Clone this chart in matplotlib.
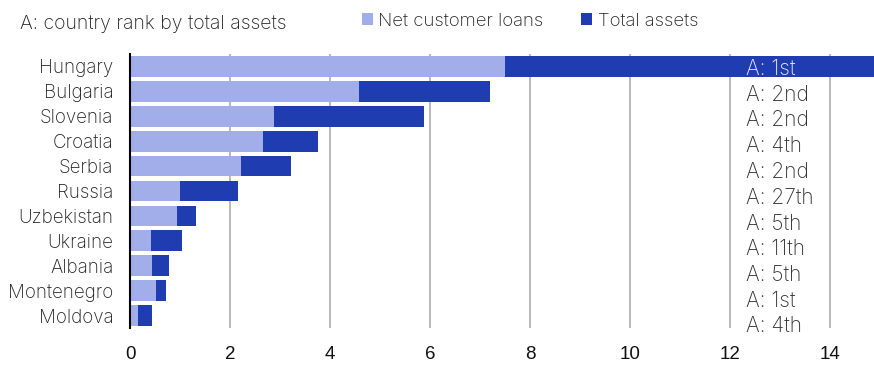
import matplotlib.pyplot as plt
import numpy as np

plt.rcParams["font.family"] = ["Inter", "DejaVu Sans"]
plt.rcParams["font.weight"] = "light"

countries = ["Hungary", "Bulgaria", "Slovenia", "Croatia", "Serbia", "Russia",
             "Uzbekistan", "Ukraine", "Albania", "Montenegro", "Moldova"]
net_loans = [7.5, 4.58, 2.88, 2.65, 2.21, 0.99, 0.94, 0.41, 0.44, 0.51, 0.15]
total_assets = [15.5, 7.2, 5.88, 3.75, 3.21, 2.15, 1.32, 1.03, 0.77, 0.71, 0.43]
ranks = ["1st", "2nd", "2nd", "4th", "2nd", "27th", "5th", "11th", "5th", "1st", "4th"]

light = "#a1aeea"
dark = "#1f3db0"

fig = plt.figure(figsize=(8.74, 3.65), dpi=100)
ax = fig.add_axes([130 / 874, 37 / 365, 744 / 874, 274 / 365])

y = np.arange(len(countries))
ax.barh(y, total_assets, height=0.83, color=dark, zorder=2, label="Total assets")
ax.barh(y, net_loans, height=0.83, color=light, zorder=3, label="Net customer loans")

ax.set_xlim(0, 14.88)
ax.set_ylim(len(countries) - 0.5, -0.5)
ax.set_yticks(y)
ax.set_yticklabels(countries, fontsize=13.5, color="#222222")
ax.set_xticks(np.arange(0, 15, 2))
ax.set_xticklabels([str(v) for v in range(0, 15, 2)], fontsize=13.5,
                   family="Liberation Sans", weight="normal", color="#111111")
ax.tick_params(axis="x", length=0, pad=13)
ax.tick_params(axis="y", length=0, pad=12)
ax.grid(axis="x", color="#b3b3b3", linewidth=1.3, zorder=1)
ax.set_axisbelow(True)
for side in ["top", "right", "bottom"]:
    ax.spines[side].set_visible(False)
ax.spines["left"].set_color("black")
ax.spines["left"].set_linewidth(1.5)
ax.spines["left"].set_zorder(4)

for i, r in enumerate(ranks):
    col = "#e6e9f8" if i == 0 else "#333333"
    ax.text(12.31, 0.1 + i * 1.033, "A: " + r, fontsize=15, color=col,
            va="center", ha="left", zorder=5)

fig.text(20 / 874, 1 - 24 / 365, "A: country rank by total assets", fontsize=14,
         color="#222222", va="center", ha="left")

handles, labels = ax.get_legend_handles_labels()
fig.legend(handles[::-1], labels[::-1], loc="center left",
           bbox_to_anchor=(345 / 874, 1 - 21 / 365), ncol=2, frameon=False,
           fontsize=13.4, handlelength=0.6, handleheight=0.6, handletextpad=0.3,
           columnspacing=2.0, labelcolor="#222222")

fig.savefig("out.png", dpi=100)
